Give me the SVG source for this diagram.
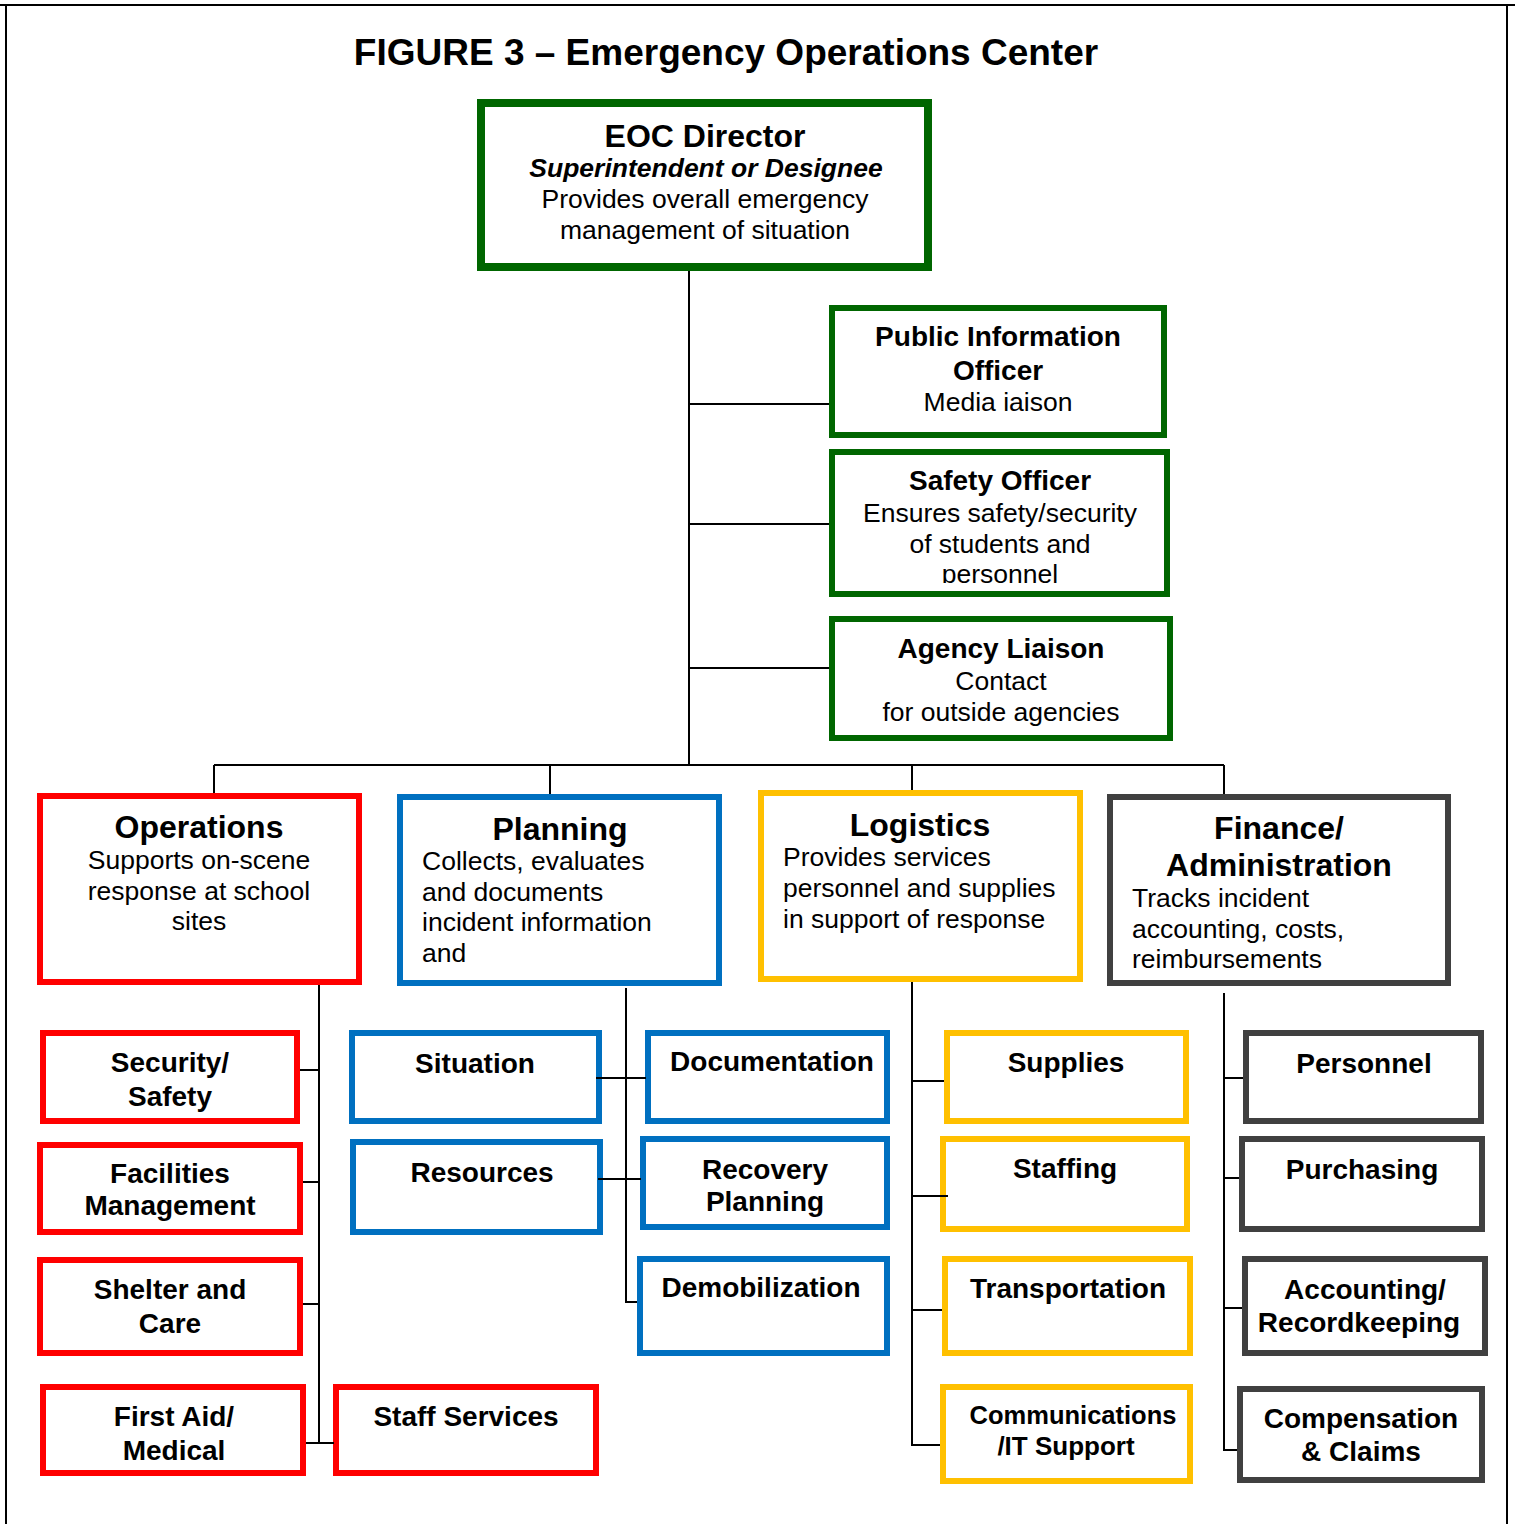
<svg xmlns="http://www.w3.org/2000/svg" width="1515" height="1524" viewBox="0 0 1515 1524">
<style>
text{font-family:"Liberation Sans",Arial,sans-serif;fill:#000;}
.t{font-size:37px;font-weight:bold;text-anchor:middle;}
.h{font-size:32px;font-weight:bold;text-anchor:middle;}
.b{font-size:28px;font-weight:bold;text-anchor:middle;}
.r{font-size:26.5px;text-anchor:middle;}
.rl{font-size:26.5px;}
.bi{font-size:26.5px;font-weight:bold;font-style:italic;text-anchor:middle;}
rect{fill:#fff;stroke-width:6;}
.g{stroke:#006600;}
.red{stroke:#FF0000;}
.blu{stroke:#0070C0;}
.yel{stroke:#FFC000;}
.gry{stroke:#404040;}
.c{stroke:#000;stroke-width:2;fill:none;}
</style>
<defs>
<clipPath id="clipSafety"><rect x="835" y="455" width="330" height="128"/></clipPath>
</defs>
<rect x="0" y="0" width="1515" height="1524" style="fill:#fff;stroke:none"/>
<g id="frame">
<line x1="0" y1="5" x2="1515" y2="5" class="c"/>
<line x1="6" y1="5" x2="6" y2="1524" class="c"/>
<line x1="1507" y1="5" x2="1507" y2="1524" class="c"/>
</g>
<text class="t" x="726" y="65">FIGURE 3 – Emergency Operations Center</text>

<g id="eoc-director">
<rect class="g" x="481" y="103" width="447" height="164" style="stroke-width:8"/>
<text class="h" x="705" y="147">EOC Director</text>
<text class="bi" x="706" y="177">Superintendent or Designee</text>
<text class="r" x="705" y="208">Provides overall emergency</text>
<text class="r" x="705" y="239">management of situation</text>
</g>
<g id="pio">
<rect class="g" x="832" y="308" width="332" height="127"/>
<text class="b" x="998" y="346">Public Information</text>
<text class="b" x="998" y="380">Officer</text>
<text class="r" x="998" y="411">Media iaison</text>
</g>
<g id="safety-officer">
<rect class="g" x="832" y="452" width="335" height="142"/>
<text class="b" x="1000" y="490">Safety Officer</text>
<text class="r" x="1000" y="522">Ensures safety/security</text>
<text class="r" x="1000" y="553">of students and</text>
<text class="r" x="1000" y="583" clip-path="url(#clipSafety)">personnel</text>
</g>
<g id="agency-liaison">
<rect class="g" x="832" y="619" width="338" height="119"/>
<text class="b" x="1001" y="658">Agency Liaison</text>
<text class="r" x="1001" y="690">Contact</text>
<text class="r" x="1001" y="721">for outside agencies</text>
</g>

<g id="operations">
<rect class="red" x="40" y="796" width="319" height="186"/>
<text class="h" x="199" y="838">Operations</text>
<text class="r" x="199" y="869">Supports on-scene</text>
<text class="r" x="199" y="900">response at school</text>
<text class="r" x="199" y="930">sites</text>
</g>
<g id="planning">
<rect class="blu" x="400" y="797" width="319" height="186"/>
<text class="h" x="560" y="840">Planning</text>
<text class="rl" x="422" y="870">Collects, evaluates</text>
<text class="rl" x="422" y="901">and documents</text>
<text class="rl" x="422" y="931">incident information</text>
<text class="rl" x="422" y="962">and</text>
</g>
<g id="logistics">
<rect class="yel" x="761" y="793" width="319" height="186"/>
<text class="h" x="920" y="836">Logistics</text>
<text class="rl" x="783" y="866">Provides services</text>
<text class="rl" x="783" y="897">personnel and supplies</text>
<text class="rl" x="783" y="928">in support of response</text>
</g>
<g id="finance">
<rect class="gry" x="1110" y="797" width="338" height="186"/>
<text class="h" x="1279" y="839">Finance/</text>
<text class="h" x="1279" y="876">Administration</text>
<text class="rl" x="1132" y="907">Tracks incident</text>
<text class="rl" x="1132" y="938">accounting, costs,</text>
<text class="rl" x="1132" y="968">reimbursements</text>
</g>

<g id="security-safety">
<rect class="red" x="43" y="1033" width="254" height="88"/>
<text class="b" x="170" y="1072">Security/</text>
<text class="b" x="170" y="1106">Safety</text>
</g>
<g id="facilities">
<rect class="red" x="40" y="1145" width="260" height="87"/>
<text class="b" x="170" y="1183">Facilities</text>
<text class="b" x="170" y="1215">Management</text>
</g>
<g id="shelter">
<rect class="red" x="40" y="1260" width="260" height="93"/>
<text class="b" x="170" y="1299">Shelter and</text>
<text class="b" x="170" y="1333">Care</text>
</g>
<g id="first-aid">
<rect class="red" x="43" y="1387" width="260" height="86"/>
<text class="b" x="174" y="1426">First Aid/</text>
<text class="b" x="174" y="1460">Medical</text>
</g>
<g id="staff-services">
<rect class="red" x="336" y="1387" width="260" height="86"/>
<text class="b" x="466" y="1426">Staff Services</text>
</g>

<g id="situation">
<rect class="blu" x="352" y="1033" width="247" height="88"/>
<text class="b" x="475" y="1073">Situation</text>
</g>
<g id="resources">
<rect class="blu" x="353" y="1142" width="247" height="90"/>
<text class="b" x="482" y="1182">Resources</text>
</g>
<g id="documentation">
<rect class="blu" x="648" y="1033" width="239" height="88"/>
<text class="b" x="772" y="1071">Documentation</text>
</g>
<g id="recovery-planning">
<rect class="blu" x="643" y="1139" width="244" height="88"/>
<text class="b" x="765" y="1179">Recovery</text>
<text class="b" x="765" y="1211">Planning</text>
</g>
<g id="demobilization">
<rect class="blu" x="640" y="1259" width="247" height="94"/>
<text class="b" x="761" y="1297">Demobilization</text>
</g>

<g id="supplies">
<rect class="yel" x="947" y="1033" width="239" height="88"/>
<text class="b" x="1066" y="1072">Supplies</text>
</g>
<g id="staffing">
<rect class="yel" x="943" y="1139" width="244" height="90"/>
<text class="b" x="1065" y="1178">Staffing</text>
</g>
<g id="transportation">
<rect class="yel" x="945" y="1259" width="245" height="94"/>
<text class="b" x="1068" y="1298">Transportation</text>
</g>
<g id="communications">
<rect class="yel" x="943" y="1387" width="247" height="94"/>
<text class="b" x="1073" y="1424" style="font-size:25.5px">Communications</text>
<text class="b" x="1066" y="1455" style="font-size:26px">/IT Support</text>
</g>

<g id="personnel">
<rect class="gry" x="1246" y="1033" width="235" height="88"/>
<text class="b" x="1364" y="1073">Personnel</text>
</g>
<g id="purchasing">
<rect class="gry" x="1242" y="1139" width="240" height="90"/>
<text class="b" x="1362" y="1179">Purchasing</text>
</g>
<g id="accounting">
<rect class="gry" x="1245" y="1259" width="240" height="94"/>
<text class="b" x="1365" y="1299">Accounting/</text>
<text class="b" x="1359" y="1332">Recordkeeping</text>
</g>
<g id="compensation">
<rect class="gry" x="1240" y="1389" width="242" height="91"/>
<text class="b" x="1361" y="1428">Compensation</text>
<text class="b" x="1361" y="1461">&amp; Claims</text>
</g>

<g id="connectors">
<path class="c" d="M689,271 V765 M214,765 H1224 M214,765 V793 M550,765 V794 M912,765 V790 M1224,765 V794"/>
<path class="c" d="M689,404 H829 M689,524 H829 M689,668 H829"/>
<path class="c" d="M319,985 V1443 M300,1070 H319 M303,1182 H319 M303,1304 H319 M306,1443 H334"/>
<path class="c" d="M626,988 V1302 H637 M596,1078 H646 M598,1179 H641"/>
<path class="c" d="M912,982 V1445 H940 M912,1081 H944 M912,1196 H948 M912,1310 H942"/>
<path class="c" d="M1224,993 V1450 H1237 M1224,1078 H1243 M1224,1178 H1239 M1224,1308 H1242"/>
</g>
</svg>
